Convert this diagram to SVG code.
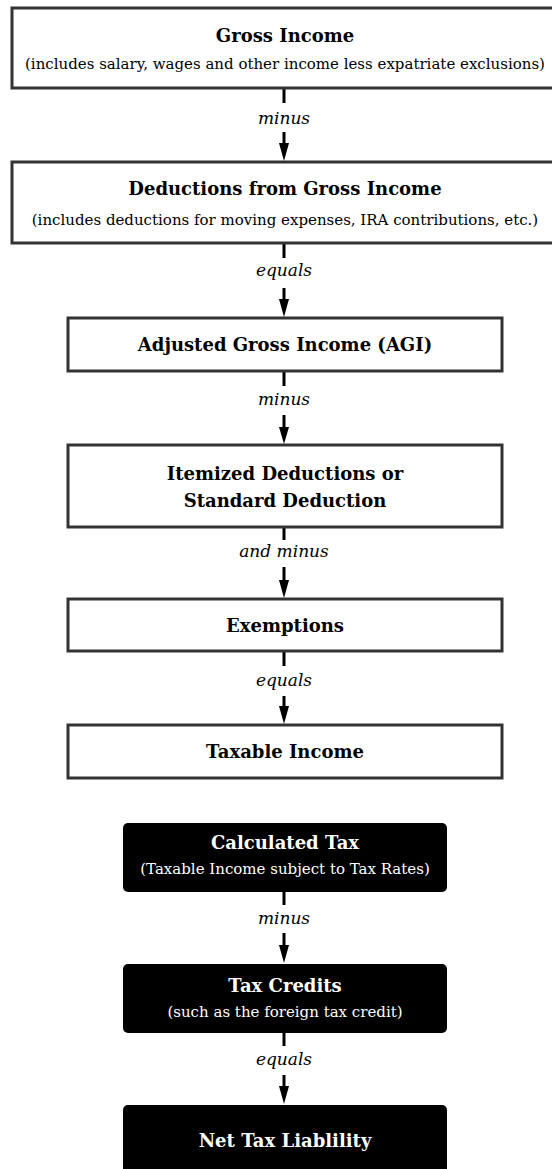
<svg xmlns="http://www.w3.org/2000/svg" width="552" height="1169" viewBox="0 0 552 1169">
<style>
.box{fill:#fff;stroke:#333;stroke-width:3}
.dark{fill:#000;stroke:none}
.t{font-family:"DejaVu Serif","Liberation Serif",serif;font-weight:bold;font-size:18px;text-anchor:middle;fill:#000}
.s{font-family:"DejaVu Serif","Liberation Serif",serif;font-size:15px;text-anchor:middle;fill:#000}
.w{fill:#fff}
.l{font-family:"DejaVu Serif","Liberation Serif",serif;font-style:italic;font-size:17px;text-anchor:middle;fill:#000}
.c{stroke:#000;stroke-width:3;fill:none}
</style>
<rect width="552" height="1169" fill="#fff"/>
<g id="connectors">
<line class="c" x1="284" y1="89" x2="284" y2="103"/>
<text class="l" x="284" y="124">minus</text>
<line class="c" x1="284" y1="132" x2="284" y2="144"/>
<path d="M279,143 L289,143 L284,161 Z"/>
<line class="c" x1="284" y1="244" x2="284" y2="258"/>
<text class="l" x="284" y="276">equals</text>
<line class="c" x1="284" y1="288" x2="284" y2="300"/>
<path d="M279,299 L289,299 L284,317 Z"/>
<line class="c" x1="284" y1="372" x2="284" y2="386"/>
<text class="l" x="284" y="405">minus</text>
<line class="c" x1="284" y1="415" x2="284" y2="428"/>
<path d="M279,427 L289,427 L284,444 Z"/>
<line class="c" x1="284" y1="528" x2="284" y2="540"/>
<text class="l" x="284" y="557">and minus</text>
<line class="c" x1="284" y1="567" x2="284" y2="581"/>
<path d="M279,580 L289,580 L284,598 Z"/>
<line class="c" x1="284" y1="652" x2="284" y2="666"/>
<text class="l" x="284" y="686">equals</text>
<line class="c" x1="284" y1="696" x2="284" y2="707"/>
<path d="M279,706 L289,706 L284,724 Z"/>
<line class="c" x1="284" y1="892" x2="284" y2="905"/>
<text class="l" x="284" y="924">minus</text>
<line class="c" x1="284" y1="933" x2="284" y2="946"/>
<path d="M279,945 L289,945 L284,963 Z"/>
<line class="c" x1="284" y1="1033" x2="284" y2="1046"/>
<text class="l" x="284" y="1065">equals</text>
<line class="c" x1="284" y1="1075" x2="284" y2="1087"/>
<path d="M279,1086 L289,1086 L284,1104 Z"/>
</g>
<g id="gross-income">
<rect class="box" x="12" y="8" width="546" height="80"/>
<text class="t" x="285" y="42">Gross Income</text>
<text class="s" x="285" y="69">(includes salary, wages and other income less expatriate exclusions)</text>
</g>
<g id="deductions">
<rect class="box" x="12" y="162" width="546" height="81"/>
<text class="t" x="285" y="195">Deductions from Gross Income</text>
<text class="s" x="285" y="225">(includes deductions for moving expenses, IRA contributions, etc.)</text>
</g>
<g id="agi">
<rect class="box" x="68" y="318" width="434" height="53"/>
<text class="t" x="285" y="351">Adjusted Gross Income (AGI)</text>
</g>
<g id="itemized">
<rect class="box" x="68" y="445" width="434" height="82"/>
<text class="t" x="285" y="480">Itemized Deductions or</text>
<text class="t" x="285" y="507">Standard Deduction</text>
</g>
<g id="exemptions">
<rect class="box" x="68" y="599" width="434" height="52"/>
<text class="t" x="285" y="632">Exemptions</text>
</g>
<g id="taxable-income">
<rect class="box" x="68" y="725" width="434" height="53"/>
<text class="t" x="285" y="758">Taxable Income</text>
</g>
<g id="calculated-tax">
<rect class="dark" x="123" y="823" width="324" height="69" rx="5"/>
<text class="t w" x="285" y="849">Calculated Tax</text>
<text class="s w" x="285" y="874">(Taxable Income subject to Tax Rates)</text>
</g>
<g id="tax-credits">
<rect class="dark" x="123" y="964" width="324" height="69" rx="5"/>
<text class="t w" x="285" y="992">Tax Credits</text>
<text class="s w" x="285" y="1017">(such as the foreign tax credit)</text>
</g>
<g id="net-tax">
<rect class="dark" x="123" y="1105" width="324" height="80" rx="5"/>
<text class="t w" x="285" y="1147">Net Tax Liablility</text>
</g>
</svg>
